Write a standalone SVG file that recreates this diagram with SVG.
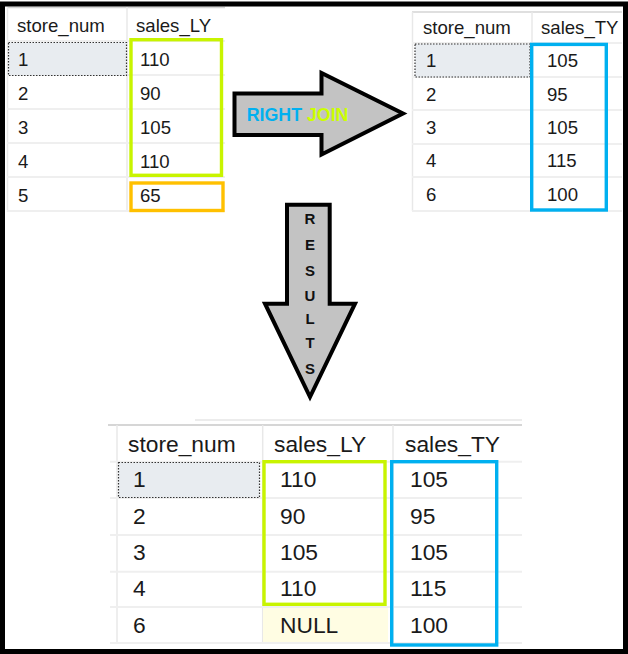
<svg xmlns="http://www.w3.org/2000/svg" width="628" height="654" viewBox="0 0 628 654">
<style>
.t{font-family:"Liberation Sans",Arial,sans-serif;fill:#1a1a1a}
.s{font-size:18.6px}
.b{font-size:22.8px}
.grid{stroke:#efefef;stroke-width:2;fill:none}
.vgrid{stroke:#e8e8e8;stroke-width:1.5;fill:none}
.top{stroke:#d4d4d4;stroke-width:1.5;fill:none}
.sel{fill:#e8ecf0;stroke:#333;stroke-width:1.2;stroke-dasharray:1.5 1.5}
.green{fill:none;stroke:#c8f400;stroke-width:3.4}
.blue{fill:none;stroke:#00b0f0;stroke-width:3.4}
.orange{fill:none;stroke:#ffc000;stroke-width:3.4}
.arrow{fill:#c3c3c3;stroke:#000;stroke-width:4;stroke-linejoin:miter}
.lbl{font-family:"Liberation Sans",Arial,sans-serif;font-weight:bold}
</style>
<rect x="0" y="0" width="628" height="654" fill="#fff"/>

<g id="table_LY">
<line class="top" x1="7" y1="7.5" x2="225" y2="7.5"/>
<line class="vgrid" x1="7.5" y1="7" x2="7.5" y2="212"/>
<line class="vgrid" x1="127" y1="7" x2="127" y2="212"/>
<path class="grid" d="M7 41H225M7 75H225M7 109H225M7 143H225M7 177H225M7 211H225"/>
<rect class="sel" x="8.5" y="42.5" width="118" height="33"/>
<text class="t s" x="17" y="31.5">store_num</text>
<text class="t s" x="136" y="31.5">sales_LY</text>
<text class="t s" x="18" y="65.5">1</text><text class="t s" x="140" y="65.5">110</text>
<text class="t s" x="18" y="99.5">2</text><text class="t s" x="140" y="99.5">90</text>
<text class="t s" x="18" y="133.5">3</text><text class="t s" x="140" y="133.5">105</text>
<text class="t s" x="18" y="167.5">4</text><text class="t s" x="140" y="167.5">110</text>
<text class="t s" x="18" y="201.5">5</text><text class="t s" x="140" y="201.5">65</text>
<rect class="green" x="131" y="39.7" width="90.5" height="135.6"/>
<rect class="orange" x="131" y="183" width="92" height="27.5"/>
</g>

<g id="table_TY">
<line class="top" x1="412" y1="12" x2="622" y2="12"/>
<line class="vgrid" x1="412.5" y1="12" x2="412.5" y2="211"/>
<line class="vgrid" x1="532" y1="12" x2="532" y2="211"/>
<path class="grid" d="M412 43H622M412 77H622M412 110H622M412 144H622M412 177H622M412 211H622"/>
<rect class="sel" x="415" y="44" width="115" height="33"/>
<text class="t s" x="423" y="34">store_num</text>
<text class="t s" x="541" y="34">sales_TY</text>
<text class="t s" x="426" y="67">1</text><text class="t s" x="547" y="67">105</text>
<text class="t s" x="426" y="100.5">2</text><text class="t s" x="547" y="100.5">95</text>
<text class="t s" x="426" y="134">3</text><text class="t s" x="547" y="134">105</text>
<text class="t s" x="426" y="167">4</text><text class="t s" x="547" y="167">115</text>
<text class="t s" x="426" y="200.5">6</text><text class="t s" x="547" y="200.5">100</text>
<rect class="blue" x="531.7" y="44.4" width="74.6" height="165.6"/>
</g>

<g id="arrow_right_join">
<polygon class="arrow" points="234.5,93.5 321.5,93.5 321.5,73 403,113.5 321.5,154.5 321.5,135 234.5,135"/>
<text class="lbl" x="246.7" y="120.7" font-size="17.8"><tspan fill="#00b0f0">RIGHT</tspan><tspan fill="#ccff00"> JOIN</tspan></text>
</g>

<g id="arrow_results">
<polygon class="arrow" points="287,204.7 329.7,204.7 329.7,303.7 355,303.7 310,397 265,303.7 287,303.7"/>
<g class="lbl" font-size="15" fill="#111" text-anchor="middle">
<text x="310" y="223.5">R</text>
<text x="310" y="249.5">E</text>
<text x="310" y="275.5">S</text>
<text x="310" y="300.5">U</text>
<text x="310" y="324">L</text>
<text x="310" y="348">T</text>
<text x="310" y="373.5">S</text>
</g>
</g>

<g id="table_result">
<line stroke="#e6e6e6" stroke-width="1.5" x1="195" y1="420" x2="522" y2="420"/>
<line stroke="#c8c8c8" stroke-width="1.5" x1="108" y1="425" x2="522" y2="425"/>
<line class="vgrid" x1="117" y1="425" x2="117" y2="643"/>
<line class="vgrid" x1="262.7" y1="425" x2="262.7" y2="643"/>
<line class="vgrid" x1="393" y1="425" x2="393" y2="643"/>
<rect x="263" y="607.5" width="125" height="35" fill="#fffde3"/>
<path class="grid" d="M110 461.7H522M110 498H522M110 535H522M110 571.7H522M110 607H522M110 643H522"/>
<rect class="sel" x="118.5" y="462.5" width="141" height="35"/>
<text class="t b" x="128" y="451.7">store_num</text>
<text class="t b" x="274" y="451.7">sales_LY</text>
<text class="t b" x="405" y="451.7">sales_TY</text>
<text class="t b" x="133" y="487">1</text><text class="t b" x="280" y="487">110</text><text class="t b" x="410" y="487">105</text>
<text class="t b" x="133" y="523.5">2</text><text class="t b" x="280" y="523.5">90</text><text class="t b" x="410" y="523.5">95</text>
<text class="t b" x="133" y="560">3</text><text class="t b" x="280" y="560">105</text><text class="t b" x="410" y="560">105</text>
<text class="t b" x="133" y="596">4</text><text class="t b" x="280" y="596">110</text><text class="t b" x="410" y="596">115</text>
<text class="t b" x="133" y="632.5">6</text><text class="t b" x="280" y="632.5">NULL</text><text class="t b" x="410" y="632.5">100</text>
<rect class="green" x="264" y="461.7" width="121" height="142.6"/>
<rect class="blue" x="391.7" y="461.7" width="105" height="183.3"/>
</g>

<rect id="frame" x="2.5" y="4" width="623" height="647.5" fill="none" stroke="#000" stroke-width="5"/>
</svg>
